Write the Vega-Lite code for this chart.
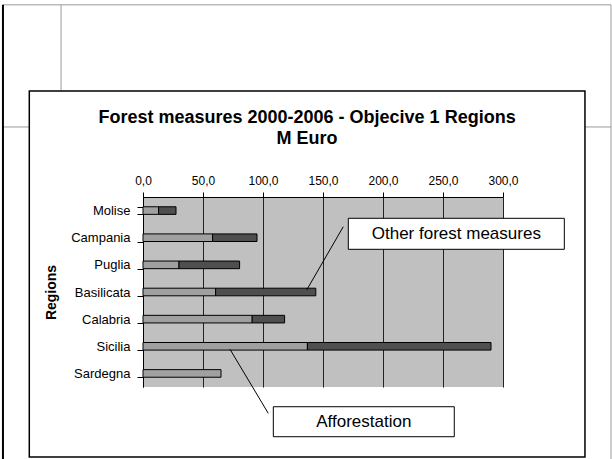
{
  "$schema": "https://vega.github.io/schema/vega-lite/v6.json",
  "width": 360,
  "height": 190,
  "autosize": {"type": "none"},
  "padding": {"left": 143, "top": 197, "right": 109, "bottom": 72},
  "background": "white",
  "config": {
    "view": {"fill": "#c0c0c0", "stroke": null},
    "axis": {
      "labelFont": "Liberation Sans",
      "titleFont": "Liberation Sans",
      "labelColor": "black",
      "titleColor": "black",
      "domainColor": "black",
      "tickColor": "black"
    }
  },
  "datasets": {
    "spending": [
      {"region": "Molise", "measure": "Afforestation", "value": 13},
      {"region": "Molise", "measure": "Other forest measures", "value": 14.5},
      {"region": "Campania", "measure": "Afforestation", "value": 58},
      {"region": "Campania", "measure": "Other forest measures", "value": 37},
      {"region": "Puglia", "measure": "Afforestation", "value": 30},
      {"region": "Puglia", "measure": "Other forest measures", "value": 50.5},
      {"region": "Basilicata", "measure": "Afforestation", "value": 60.5},
      {"region": "Basilicata", "measure": "Other forest measures", "value": 83.5},
      {"region": "Calabria", "measure": "Afforestation", "value": 91},
      {"region": "Calabria", "measure": "Other forest measures", "value": 27},
      {"region": "Sicilia", "measure": "Afforestation", "value": 137},
      {"region": "Sicilia", "measure": "Other forest measures", "value": 153},
      {"region": "Sardegna", "measure": "Afforestation", "value": 65}
    ],
    "heading": [
      {"line": "Forest measures 2000-2006 - Objecive 1 Regions", "tx": 136.7, "ty": -2.911},
      {"line": "M Euro", "tx": 136.7, "ty": -2.137}
    ],
    "callouts": [
      {"label": "Other forest measures", "x": 171.1, "x2": 351.1, "y": 0.785, "y2": 1.927, "tx": 261.1, "ty": 1.356, "lx": 166.9, "ly": 1.094, "lx2": 136.4, "ly2": 3.427},
      {"label": "Afforestation", "x": 108.6, "x2": 259.4, "y": 7.727, "y2": 8.832, "tx": 184, "ty": 8.28, "lx": 104.4, "ly": 7.97, "lx2": 72.5, "ly2": 5.612}
    ],
    "sheet": [
      {"kind": "cell", "x": -116.7, "x2": 390, "y": -7.08, "y2": -7.08},
      {"kind": "cell", "x": 390, "x2": 390, "y": -7.08, "y2": 9.8},
      {"kind": "cell", "x": -68.3, "x2": -68.3, "y": -7.08, "y2": -3.906},
      {"kind": "cell", "x": -116.7, "x2": -94.75, "y": -2.58, "y2": -2.58},
      {"kind": "cell", "x": 368.3, "x2": 390, "y": -2.58, "y2": -2.58},
      {"kind": "edge", "x": -116.7, "x2": -116.7, "y": -7.08, "y2": 9.8}
    ],
    "frame": [
      {"x": -94.75, "x2": 368.3, "y": -3.906, "y2": 9.58}
    ]
  },
  "layer": [
    {
      "data": {"name": "spending"},
      "mark": {"type": "bar", "stroke": "black", "strokeWidth": 1, "clip": false},
      "encoding": {
        "y": {
          "field": "region",
          "type": "nominal",
          "sort": ["Molise", "Campania", "Puglia", "Basilicata", "Calabria", "Sicilia", "Sardegna"],
          "scale": {"paddingInner": 0.72, "paddingOuter": 0.36},
          "axis": {
            "title": "Regions",
            "titleFontSize": 14,
            "titleFontWeight": "bold",
            "titlePadding": 12,
            "labelFontSize": 13,
            "labelPadding": 7,
            "tickSize": 6,
            "tickBand": "extent",
            "domainWidth": 1
          }
        },
        "x": {
          "field": "value",
          "type": "quantitative",
          "stack": "zero",
          "scale": {"domain": [0, 300], "nice": false},
          "axis": {
            "orient": "top",
            "title": null,
            "values": [0, 50, 100, 150, 200, 250, 300],
            "labelExpr": "replace(format(datum.value, '.1f'), '.', ',')",
            "labelFontSize": 12,
            "labelFlush": false,
            "labelPadding": 5,
            "tickSize": 5,
            "grid": true,
            "gridColor": "#222222",
            "gridOpacity": 1,
            "gridWidth": 1,
            "domainWidth": 1
          }
        },
        "color": {
          "field": "measure",
          "type": "nominal",
          "scale": {"domain": ["Afforestation", "Other forest measures"], "range": ["#a0a0a0", "#4f4f4f"]},
          "legend": null
        }
      }
    },
    {
      "data": {"name": "sheet"},
      "transform": [{"filter": "datum.kind === 'cell'"}],
      "mark": {"type": "rule", "color": "#9a9a9a", "strokeWidth": 1, "clip": false},
      "encoding": {
        "x": {"field": "x", "type": "quantitative"},
        "x2": {"field": "x2"},
        "y": {"field": "y", "type": "quantitative", "scale": {"domain": [0, 7], "reverse": true, "nice": false, "zero": false}, "axis": null},
        "y2": {"field": "y2"}
      }
    },
    {
      "data": {"name": "sheet"},
      "transform": [{"filter": "datum.kind === 'edge'"}],
      "mark": {"type": "rule", "color": "black", "strokeWidth": 2, "clip": false},
      "encoding": {
        "x": {"field": "x", "type": "quantitative"},
        "x2": {"field": "x2"},
        "y": {"field": "y", "type": "quantitative", "scale": {"domain": [0, 7], "reverse": true, "nice": false, "zero": false}, "axis": null},
        "y2": {"field": "y2"}
      }
    },
    {
      "data": {"name": "frame"},
      "mark": {"type": "rect", "fill": null, "stroke": "black", "strokeWidth": 1.5, "clip": false},
      "encoding": {
        "x": {"field": "x", "type": "quantitative"},
        "x2": {"field": "x2"},
        "y": {"field": "y", "type": "quantitative", "scale": {"domain": [0, 7], "reverse": true, "nice": false, "zero": false}, "axis": null},
        "y2": {"field": "y2"}
      }
    },
    {
      "data": {"name": "heading"},
      "mark": {"type": "text", "font": "Liberation Sans", "fontSize": 18, "fontWeight": "bold", "color": "black", "align": "center", "baseline": "middle", "clip": false},
      "encoding": {
        "x": {"field": "tx", "type": "quantitative"},
        "y": {"field": "ty", "type": "quantitative", "scale": {"domain": [0, 7], "reverse": true, "nice": false, "zero": false}, "axis": null},
        "text": {"field": "line"}
      }
    },
    {
      "data": {"name": "callouts"},
      "mark": {"type": "rule", "color": "black", "strokeWidth": 1, "clip": false},
      "encoding": {
        "x": {"field": "lx", "type": "quantitative"},
        "x2": {"field": "lx2"},
        "y": {"field": "ly", "type": "quantitative", "scale": {"domain": [0, 7], "reverse": true, "nice": false, "zero": false}, "axis": null},
        "y2": {"field": "ly2"}
      }
    },
    {
      "data": {"name": "callouts"},
      "mark": {"type": "rect", "fill": "white", "stroke": "black", "strokeWidth": 1, "clip": false},
      "encoding": {
        "x": {"field": "x", "type": "quantitative"},
        "x2": {"field": "x2"},
        "y": {"field": "y", "type": "quantitative", "scale": {"domain": [0, 7], "reverse": true, "nice": false, "zero": false}, "axis": null},
        "y2": {"field": "y2"}
      }
    },
    {
      "data": {"name": "callouts"},
      "mark": {"type": "text", "font": "Liberation Sans", "fontSize": 17, "color": "black", "align": "center", "baseline": "middle", "clip": false},
      "encoding": {
        "x": {"field": "tx", "type": "quantitative"},
        "y": {"field": "ty", "type": "quantitative", "scale": {"domain": [0, 7], "reverse": true, "nice": false, "zero": false}, "axis": null},
        "text": {"field": "label"}
      }
    }
  ],
  "resolve": {"scale": {"y": "independent"}, "axis": {"y": "independent"}}
}
